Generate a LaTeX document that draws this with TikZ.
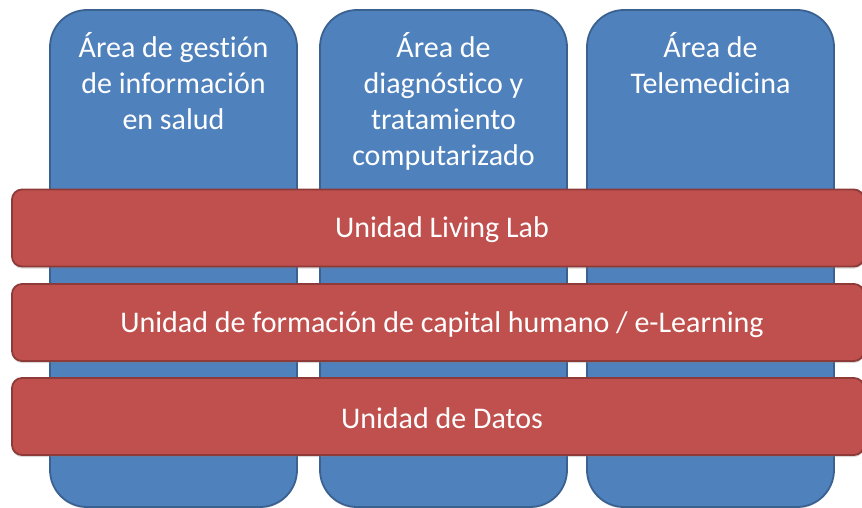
\documentclass[tikz,border=0pt]{standalone}
\usepackage{fontspec}
\setmainfont{Carlito}[Ligatures={NoCommon,NoRare}]
\usetikzlibrary{shadows,calc}
\definecolor{bfill}{HTML}{4F81BD}
\definecolor{bline}{HTML}{3A6190}
\definecolor{rfill}{HTML}{C0504D}
\definecolor{rline}{HTML}{8E3A38}
\begin{document}
\begin{tikzpicture}[x=1pt,y=-1pt,
  colbox/.style={draw=bline,fill=bfill,line width=1.8pt,rounded corners=37pt,minimum width=247pt,minimum height=497pt,inner sep=0pt,
    drop shadow={shadow xshift=0pt,shadow yshift=-1.5pt,opacity=0.25}},
  barbox/.style={draw=rline,fill=rfill,line width=1.8pt,rounded corners=10pt,minimum width=852pt,minimum height=77pt,inner sep=0pt,
    drop shadow={shadow xshift=0pt,shadow yshift=-2pt,opacity=0.3}},
  bartext/.style={text=white,font=\fontsize{30}{36}\selectfont,inner sep=0pt},
  coltext/.style={text=white,align=center,font=\fontsize{30}{36}\selectfont,inner sep=0pt,anchor=north}]
\useasboundingbox (0,0) rectangle (862,508);
\node[colbox] (c1) at (173.5,258.5) {};
\node[colbox] (c2) at (443.5,258.5) {};
\node[colbox] (c3) at (710.5,258.5) {};
\node[coltext] (t1) at ($(c1.north)+(0,23)$) {Área de gestión\\de información\\en salud};
\node[coltext] (t2) at ($(c2.north)+(0,23)$) {Área de\\diagnóstico y\\tratamiento\\computarizado};
\node[coltext] (t3) at ($(c3.north)+(0,23)$) {Área de\\Telemedicina};
\node[barbox] (b1) at (438,228) {};
\node[barbox] (b2) at (438,322.5) {};
\node[barbox] (b3) at (438,416.5) {};
\node[bartext] (l1) at ($(b1.center)+(4,2)$) {Unidad Living Lab};
\node[bartext] (l2) at ($(b2.center)+(4,2)$) {Unidad de formación de capital humano / e-Learning};
\node[bartext] (l3) at ($(b3.center)+(4,2)$) {Unidad de Datos};
\end{tikzpicture}
\end{document}
